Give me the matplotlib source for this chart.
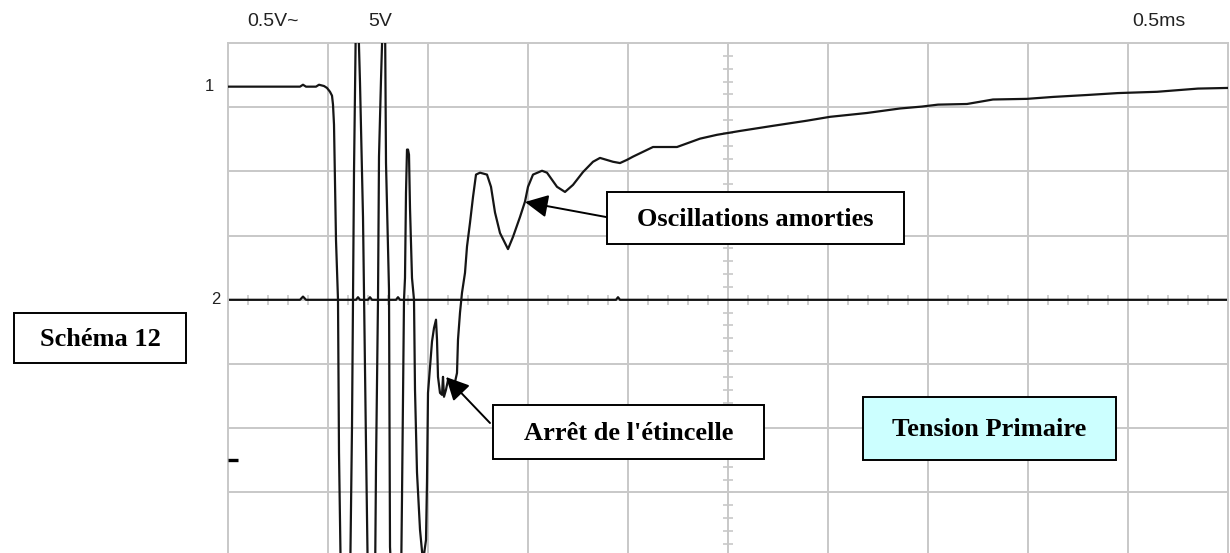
"""Oscilloscope capture: primary ignition voltage (Schéma 12)."""

import matplotlib.pyplot as plt
import numpy as np
from matplotlib.patches import FancyArrowPatch, Rectangle

# channel 1 trace: time (ms), vertical position (divisions, 0 = screen centre)
# values beyond +/-4 div run off the screen
t_ch1 = [
    0.000, 0.360, 0.375, 0.390, 0.440, 0.455, 0.480, 0.495, 0.510, 0.520,
    0.525, 0.530, 0.540, 0.550, 0.555, 0.565, 0.610, 0.620, 0.625, 0.630,
    0.640, 0.650, 0.660, 0.675, 0.690, 0.700, 0.735, 0.740, 0.750, 0.755,
    0.765, 0.775, 0.785, 0.790, 0.805, 0.810, 0.820, 0.865, 0.870, 0.880,
    0.885, 0.890, 0.895, 0.900, 0.905, 0.910, 0.920, 0.930, 0.935, 0.945,
    0.960, 0.975, 0.990, 0.995, 1.000, 1.020, 1.030, 1.040, 1.045, 1.050,
    1.060, 1.070, 1.075, 1.080, 1.090, 1.100, 1.125, 1.135, 1.145, 1.150,
    1.160, 1.170, 1.185, 1.195, 1.210, 1.225, 1.240, 1.260, 1.295, 1.315,
    1.335, 1.360, 1.400, 1.425, 1.460, 1.485, 1.500, 1.525, 1.570, 1.595,
    1.645, 1.685, 1.725, 1.775, 1.825, 1.860, 1.925, 1.960, 1.995, 2.025,
    2.125, 2.245, 2.360, 2.445, 2.560, 2.725, 2.895, 3.010, 3.195, 3.360,
    3.470, 3.550, 3.695, 3.825, 3.995, 4.125, 4.295, 4.450, 4.645, 4.850,
    5.000,
]
v_ch1 = [
    3.32, 3.32, 3.35, 3.32, 3.32, 3.35, 3.33, 3.30, 3.24, 3.18,
    3.04, 2.73, 0.93, 0.00, -2.38, -4.50, -4.50, -1.98, 0.00, 1.99,
    4.50, 4.50, 3.38, 1.29, -2.26, -4.50, -4.50, -2.60, 0.00, 2.23,
    3.43, 4.50, 4.50, 2.13, 0.16, -3.85, -4.50, -4.50, -3.08, 0.00,
    0.34, 1.67, 2.34, 2.34, 2.26, 1.43, 0.34, 0.00, -1.40, -2.69,
    -3.58, -4.08, -3.74, -2.83, -1.45, -0.65, -0.44, -0.31, -0.62, -1.20,
    -1.45, -1.48, -1.20, -1.51, -1.40, -1.25, -1.36, -1.28, -1.14, -0.62,
    -0.20, 0.11, 0.42, 0.83, 1.20, 1.60, 1.95, 1.98, 1.95, 1.76,
    1.36, 1.04, 0.79, 0.98, 1.29, 1.53, 1.76, 1.95, 2.01, 1.98,
    1.76, 1.68, 1.79, 1.99, 2.15, 2.21, 2.15, 2.13, 2.18, 2.23,
    2.38, 2.38, 2.51, 2.57, 2.63, 2.71, 2.79, 2.85, 2.91, 2.98,
    3.01, 3.04, 3.05, 3.12, 3.13, 3.16, 3.19, 3.22, 3.24, 3.29,
    3.30,
]

# channel 2 trace (almost flat on the centre line)
t_ch2 = [0.000, 0.360, 0.375, 0.390, 0.640, 0.650, 0.660, 0.700, 0.710, 0.720,
         0.840, 0.850, 0.860, 1.940, 1.950, 1.960, 5.000]
v_ch2 = [0.00, 0.00, 0.05, 0.00, 0.00, 0.04, 0.00, 0.00, 0.04, 0.00,
         0.00, 0.04, 0.00, 0.00, 0.04, 0.00, 0.00]

ch1_ref = 3.32      # "1" marker
ch2_ref = 0.00      # "2" marker
trigger_level = -2.49

W, H = 1230, 553
GRID = "#c8c8c8"


def px(x, y):
    """Pixel position (from top-left) to figure fraction."""
    return x / W, 1 - y / H


fig = plt.figure(figsize=(W / 100, H / 100), dpi=100)
fig.patch.set_facecolor("white")
ax = fig.add_axes([228 / W, (H - 556.6) / H, 1000 / W, 513.6 / H])
ax.set_xlim(0, 5)
ax.set_ylim(-4, 4)
ax.set_xticks(np.arange(0.5, 5.0, 0.5))
ax.set_yticks(np.arange(-3, 4, 1))
ax.tick_params(length=0, labelbottom=False, labelleft=False)
ax.grid(True, color=GRID, linewidth=1.4, zorder=0)
for side in ("left", "top", "right"):
    ax.spines[side].set_color(GRID)
    ax.spines[side].set_linewidth(1.4)
ax.spines["bottom"].set_visible(False)

# graduations on the centre cross
ax.plot(np.arange(0, 5.01, 0.1), np.zeros(51), linestyle="none", marker="|",
        markersize=7, markeredgewidth=1.2, color=GRID, zorder=1)
ax.plot(np.full(41, 2.5), np.arange(-4, 4.01, 0.2), linestyle="none", marker="_",
        markersize=7, markeredgewidth=1.2, color=GRID, zorder=1)

ax.plot(t_ch2, v_ch2, color="#111111", linewidth=1.6, zorder=2)
ax.plot(t_ch1, v_ch1, color="#151515", linewidth=1.6, zorder=3)
ax.plot([0, 0.05], [trigger_level] * 2, color="black", linewidth=2.4,
        solid_capstyle="butt", clip_on=False, zorder=4)

# channel markers and scope settings
tr = ax.get_yaxis_transform()
ax.text(-0.014, ch1_ref, "1", transform=tr, ha="right", va="center",
        fontsize=12, family="Liberation Sans", color="#222222")
ax.text(-0.007, ch2_ref, "2", transform=tr, ha="right", va="center",
        fontsize=12, family="Liberation Sans", color="#222222")
label_kw = dict(fontsize=14, family="Liberation Sans", color="#222222", va="center")
fig.text(*px(247, 22), "0.5V~", ha="left", **label_kw)
fig.text(*px(368, 22), "5V", ha="left", **label_kw)
fig.text(*px(1132, 22), "0.5ms", ha="left", **label_kw)

# annotation boxes: (x0, y0, x1, y1) in pixels, text, fill
boxes = [
    ((14, 313, 186, 363), "Schéma 12", "white"),
    ((607, 192, 904, 244), "Oscillations amorties", "white"),
    ((493, 405, 764, 459), "Arrêt de l'étincelle", "white"),
    ((863, 397, 1116, 460), "Tension Primaire", "#ccffff"),
]
for (x0, y0, x1, y1), label, fill in boxes:
    fx0, fy1 = px(x0, y1)
    fx1, fy0 = px(x1, y0)
    fig.add_artist(Rectangle((fx0, fy1), fx1 - fx0, fy0 - fy1, transform=fig.transFigure,
                             facecolor=fill, edgecolor="black", linewidth=1.4, zorder=5))
    fig.text(*px((x0 + x1) / 2, (y0 + y1) / 2 + 1), label, ha="center", va="center",
             fontsize=19, fontweight="bold", family="Liberation Serif", zorder=6)

arrows = [((606, 217), (525, 202)), ((490, 423), (446, 377))]
for start, tip in arrows:
    fig.add_artist(FancyArrowPatch(px(*start), px(*tip), transform=fig.transFigure,
                                   arrowstyle="-|>,head_length=14,head_width=7",
                                   mutation_scale=1, shrinkA=0, shrinkB=0,
                                   color="black", linewidth=1.4, zorder=6))

fig.savefig("out.png", dpi=100)
